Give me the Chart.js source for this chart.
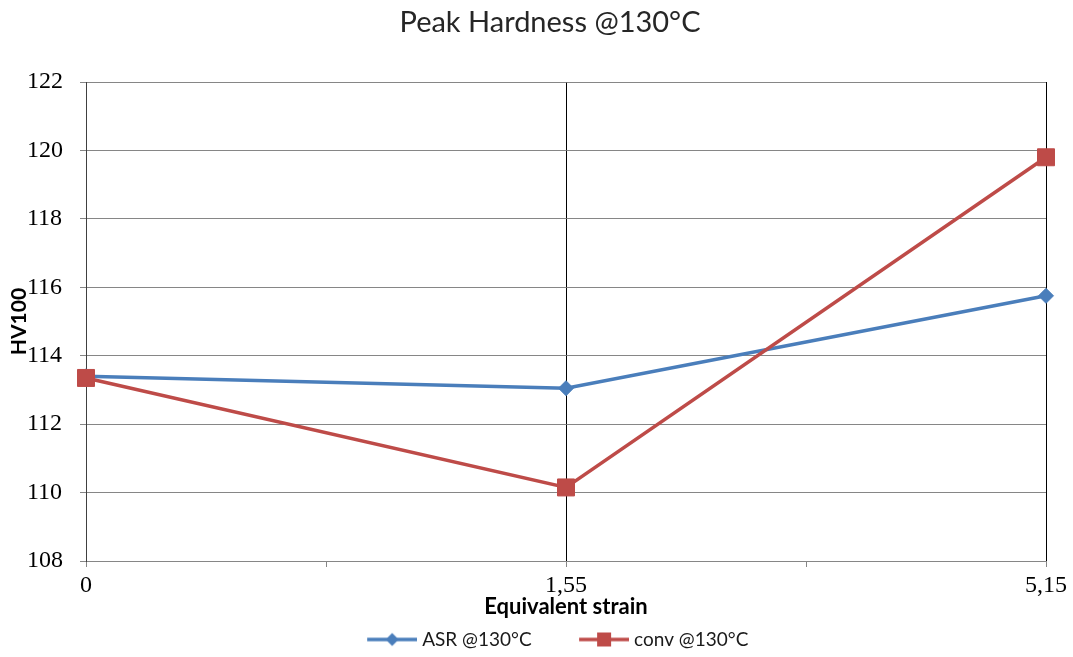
<!DOCTYPE html>
<html>
<head>
<meta charset="utf-8">
<title>Peak Hardness @130°C</title>
<script src="https://cdn.jsdelivr.net/npm/chart.js@4.4.1/dist/chart.umd.min.js"></script>
<style>
  html, body { margin: 0; padding: 0; background: #ffffff; }
  #wrap { width: 1073px; height: 657px; }
</style>
</head>
<body>
<div id="wrap"><canvas id="chart" width="1073" height="657"></canvas></div>
<script>
// Equivalent strain categories and hardness readings (HV100)
const strainLabels = ['0', '1,55', '5,15'];
const asrValues = [113.4, 113.05, 115.75];
const convValues = [113.35, 110.15, 119.8];
const yTickValues = [108, 110, 112, 114, 116, 118, 120, 122];
const seriesNames = ['ASR @130°C', 'conv @130°C'];

const BLUE = '#4a7ebb';
const RED = '#be4b48';

// Legend symbol: a short line with the series marker on it.
// The line sits in the right part of the image so there is room before it.
function legendSymbol(color, shape) {
  const c = document.createElement('canvas');
  c.width = 70; c.height = 20;
  const g = c.getContext('2d');
  const x0 = 20, x1 = 70, cx = (x0 + x1) / 2;
  g.strokeStyle = color;
  g.lineWidth = 3.5;
  g.beginPath(); g.moveTo(x0, 10); g.lineTo(x1, 10); g.stroke();
  g.fillStyle = color;
  if (shape === 'diamond') {
    g.beginPath();
    g.moveTo(cx, 3.5); g.lineTo(cx + 6.5, 10); g.lineTo(cx, 16.5); g.lineTo(cx - 6.5, 10);
    g.closePath(); g.fill();
  } else {
    g.fillRect(cx - 7, 3, 14, 14);
  }
  return c;
}
const legendSymbols = [legendSymbol(BLUE, 'diamond'), legendSymbol(RED, 'square')];

// Rotated y-axis title drawn close to the tick labels
const yTitlePlugin = {
  id: 'yTitle',
  afterDraw(chart) {
    const { ctx, chartArea } = chart;
    ctx.save();
    ctx.translate(19, (chartArea.top + chartArea.bottom) / 2);
    ctx.rotate(-Math.PI / 2);
    ctx.font = 'bold 21px Lato';
    ctx.fillStyle = '#000';
    ctx.textAlign = 'center';
    ctx.textBaseline = 'middle';
    ctx.fillText('HV100', 0, 0);
    ctx.restore();
  }
};

const toPoints = vals => vals.map((v, i) => ({ x: i, y: v }));

new Chart(document.getElementById('chart'), {
  type: 'line',
  data: {
    datasets: [
      {
        label: seriesNames[0],
        data: toPoints(asrValues),
        borderColor: BLUE,
        backgroundColor: BLUE,
        borderWidth: 3.5,
        pointStyle: 'rectRot',
        pointRadius: 7.5,
        pointHoverRadius: 7.5,
        pointBorderWidth: 1,
        tension: 0,
        clip: false,
        order: 1
      },
      {
        label: seriesNames[1],
        data: toPoints(convValues),
        borderColor: RED,
        backgroundColor: RED,
        borderWidth: 3.5,
        pointStyle: 'rect',
        pointRadius: 12,
        pointHoverRadius: 12,
        pointBorderWidth: 1,
        tension: 0,
        clip: false,
        order: 0
      }
    ]
  },
  options: {
    responsive: false,
    animation: false,
    layout: { padding: { left: 54, right: 27, top: 0, bottom: -2 } },
    plugins: {
      tooltip: { enabled: false },
      title: {
        display: true,
        text: 'Peak Hardness @130°C',
        color: '#262626',
        font: { family: 'Lato', size: 29, weight: 'normal' },
        padding: { top: 5.6, bottom: 41.6 }
      },
      legend: {
        position: 'bottom',
        labels: {
          usePointStyle: true,
          pointStyleWidth: 61,
          boxHeight: 12,
          padding: 32,
          color: '#1a1a1a',
          font: { family: 'Lato', size: 19 },
          sort: (a, b) => a.datasetIndex - b.datasetIndex,
          generateLabels(chart) {
            const items = Chart.defaults.plugins.legend.labels.generateLabels(chart);
            items.forEach(it => { it.pointStyle = legendSymbols[it.datasetIndex]; });
            return items;
          }
        }
      }
    },
    scales: {
      x: {
        type: 'linear',
        min: 0,
        max: strainLabels.length - 1,
        afterBuildTicks(scale) {
          const ticks = [];
          for (let v = 0; v <= strainLabels.length - 1; v += 0.5) ticks.push({ value: v });
          scale.ticks = ticks;
        },
        afterFit(scale) { scale.height = 37; },
        ticks: {
          autoSkip: false,
          maxRotation: 0,
          padding: 4,
          color: '#000',
          font: { family: 'Liberation Serif', size: 24 },
          callback: v => (Number.isInteger(v) ? strainLabels[v] : '')
        },
        grid: {
          tickLength: 6,
          lineWidth: 1,
          color: ctx => {
            if (!ctx.tick || !Number.isInteger(ctx.tick.value)) return 'rgba(0,0,0,0)';
            return ctx.tick.value === 0 ? '#404040' : '#000000';
          },
          tickColor: '#868686'
        },
        border: { display: true, color: '#868686', width: 1 },
        title: {
          display: true,
          text: 'Equivalent strain',
          color: '#000',
          font: { family: 'Lato', size: 22, weight: 'bold' },
          padding: { top: 0, bottom: -22.2 }
        }
      },
      y: {
        type: 'linear',
        min: yTickValues[0],
        max: yTickValues[yTickValues.length - 1],
        afterBuildTicks(scale) { scale.ticks = yTickValues.map(v => ({ value: v })); },
        afterFit(scale) { scale.width = 32; },
        ticks: {
          mirror: true,
          crossAlign: 'near',
          padding: -59,
          color: '#000',
          font: { family: 'Liberation Serif', size: 24 }
        },
        grid: { color: '#868686', tickColor: '#868686', tickLength: 6, lineWidth: 1 },
        border: { display: true, color: '#404040', width: 1 }
      }
    }
  },
  plugins: [yTitlePlugin]
});
</script>
</body>
</html>
